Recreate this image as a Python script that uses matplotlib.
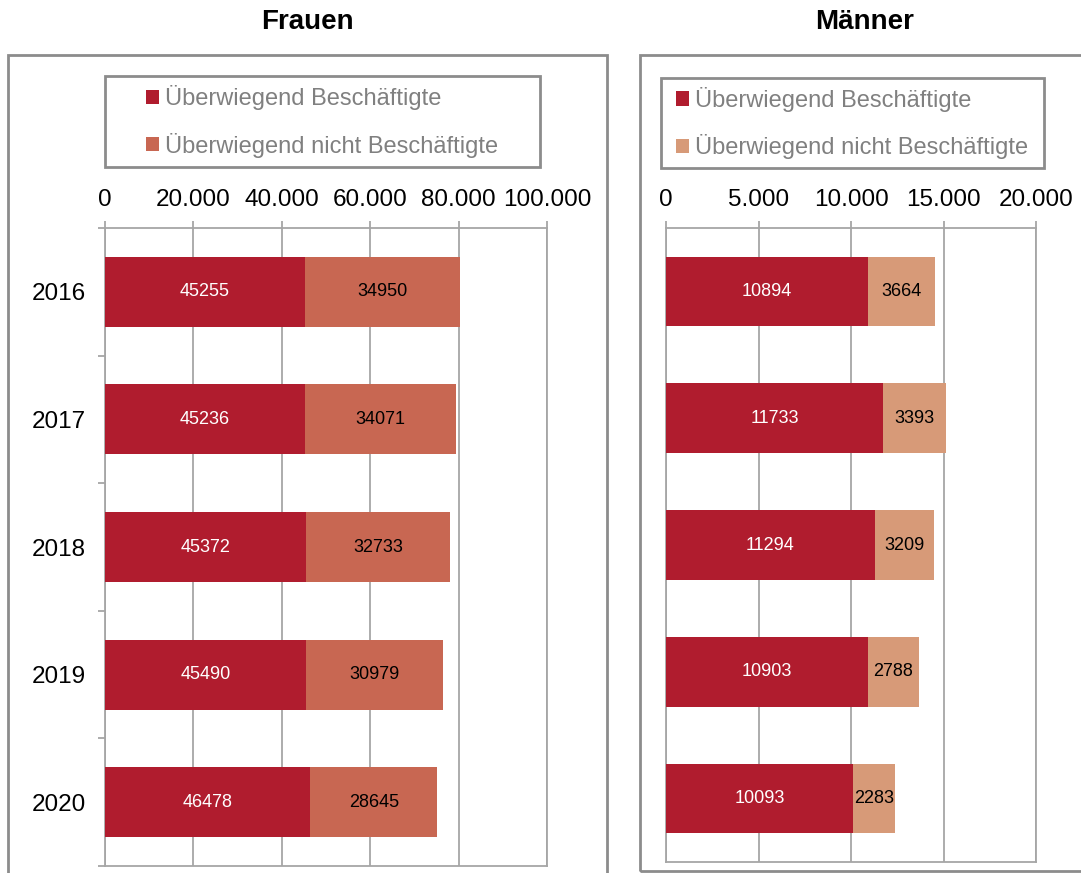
import matplotlib.pyplot as plt
from matplotlib.patches import Rectangle
from matplotlib.ticker import FuncFormatter, FixedLocator

plt.rcParams['font.family'] = ['Liberation Sans', 'DejaVu Sans']

# daten
jahre = ['2016', '2017', '2018', '2019', '2020']
frauen_besch = [45255, 45236, 45372, 45490, 46478]
frauen_nicht = [34950, 34071, 32733, 30979, 28645]
maenner_besch = [10894, 11733, 11294, 10903, 10093]
maenner_nicht = [3664, 3393, 3209, 2788, 2283]
leg_labels = ['Überwiegend Beschäftigte', 'Überwiegend nicht Beschäftigte']
frauen_ticks = [0, 20000, 40000, 60000, 80000, 100000]
maenner_ticks = [0, 5000, 10000, 15000, 20000]

DUNKELROT = '#B01C2E'
KORALLE = '#C86752'
PFIRSICH = '#D79A78'
GRAU = '#A6A6A6'
RAHMEN = '#8C8C8C'

W, H = 1081, 873
fig = plt.figure(figsize=(W / 100, H / 100), dpi=100)


def px(x0, y0, x1, y1):
    # pixel box (oben links / unten rechts) -> figure coords
    return [x0 / W, 1 - y1 / H, (x1 - x0) / W, (y1 - y0) / H]


def tausend(v, pos):
    return f"{v:,.0f}".replace(',', '.')


def panel(box, titel, titel_x, rahmen, legbox, besch, nicht, farbe2, ticks, jahre_zeigen):
    # aeusserer rahmen
    fig.patches.append(Rectangle((rahmen[0] / W, 1 - rahmen[3] / H),
                                 (rahmen[2] - rahmen[0]) / W, (rahmen[3] - rahmen[1]) / H,
                                 transform=fig.transFigure, fill=False,
                                 edgecolor=RAHMEN, lw=2, clip_on=False))
    fig.text(titel_x / W, 1 - 22 / H, titel, ha='center', va='center',
             fontsize=20, fontweight='bold')

    ax = fig.add_axes(px(*box))
    y = list(range(len(jahre)))
    b1 = ax.barh(y, besch, height=0.55, color=DUNKELROT, label=leg_labels[0], zorder=3)
    b2 = ax.barh(y, nicht, left=besch, height=0.55, color=farbe2, label=leg_labels[1], zorder=3)
    ax.bar_label(b1, label_type='center', color='white', fontsize=13)
    ax.bar_label(b2, label_type='center', color='black', fontsize=13)

    ax.set_xlim(ticks[0], ticks[-1])
    ax.set_ylim(len(jahre) - 0.5, -0.5)
    ax.xaxis.tick_top()
    ax.set_xticks(ticks)
    ax.xaxis.set_major_formatter(FuncFormatter(tausend))
    ax.tick_params(axis='x', labelsize=17.5, length=5, width=1.3, color=GRAU, pad=7)
    ax.grid(axis='x', color=GRAU, lw=1.3, zorder=0)
    ax.set_axisbelow(True)

    if jahre_zeigen:
        ax.set_yticks(y)
        ax.set_yticklabels(jahre)
        ax.yaxis.set_minor_locator(FixedLocator([i - 0.5 for i in range(len(jahre) + 1)]))
        ax.tick_params(axis='y', which='major', length=0, labelsize=17.5, pad=14)
        ax.tick_params(axis='y', which='minor', length=5, width=1.3, color=GRAU)
    else:
        ax.set_yticks([])

    for s in ax.spines.values():
        s.set_color(GRAU)
        s.set_linewidth(1.3)

    # legende
    fig.patches.append(Rectangle((legbox[0] / W, 1 - legbox[3] / H),
                                 (legbox[2] - legbox[0]) / W, (legbox[3] - legbox[1]) / H,
                                 transform=fig.transFigure, fill=False,
                                 edgecolor=RAHMEN, lw=2, clip_on=False))
    cx = (legbox[0] + legbox[2]) / 2 / W
    cy = 1 - (legbox[1] + legbox[3]) / 2 / H
    leg = fig.legend(handles=[b1, b2], loc='center', bbox_to_anchor=(cx, cy),
                     bbox_transform=fig.transFigure, frameon=False, fontsize=17,
                     handlelength=0.55, handleheight=0.55, handletextpad=0.25,
                     labelspacing=0.95, borderpad=0, borderaxespad=0)
    for t in leg.get_texts():
        t.set_color('#808080')
    return ax


panel((105, 228, 547, 866), 'Frauen', 307, (8, 55, 607, 900), (105, 76, 540, 167),
      frauen_besch, frauen_nicht, KORALLE, frauen_ticks, True)
panel((666, 228, 1036, 862), 'Männer', 865, (640, 55, 1100, 871), (661, 78, 1044, 168),
      maenner_besch, maenner_nicht, PFIRSICH, maenner_ticks, False)

fig.savefig('out.png', dpi=100)
